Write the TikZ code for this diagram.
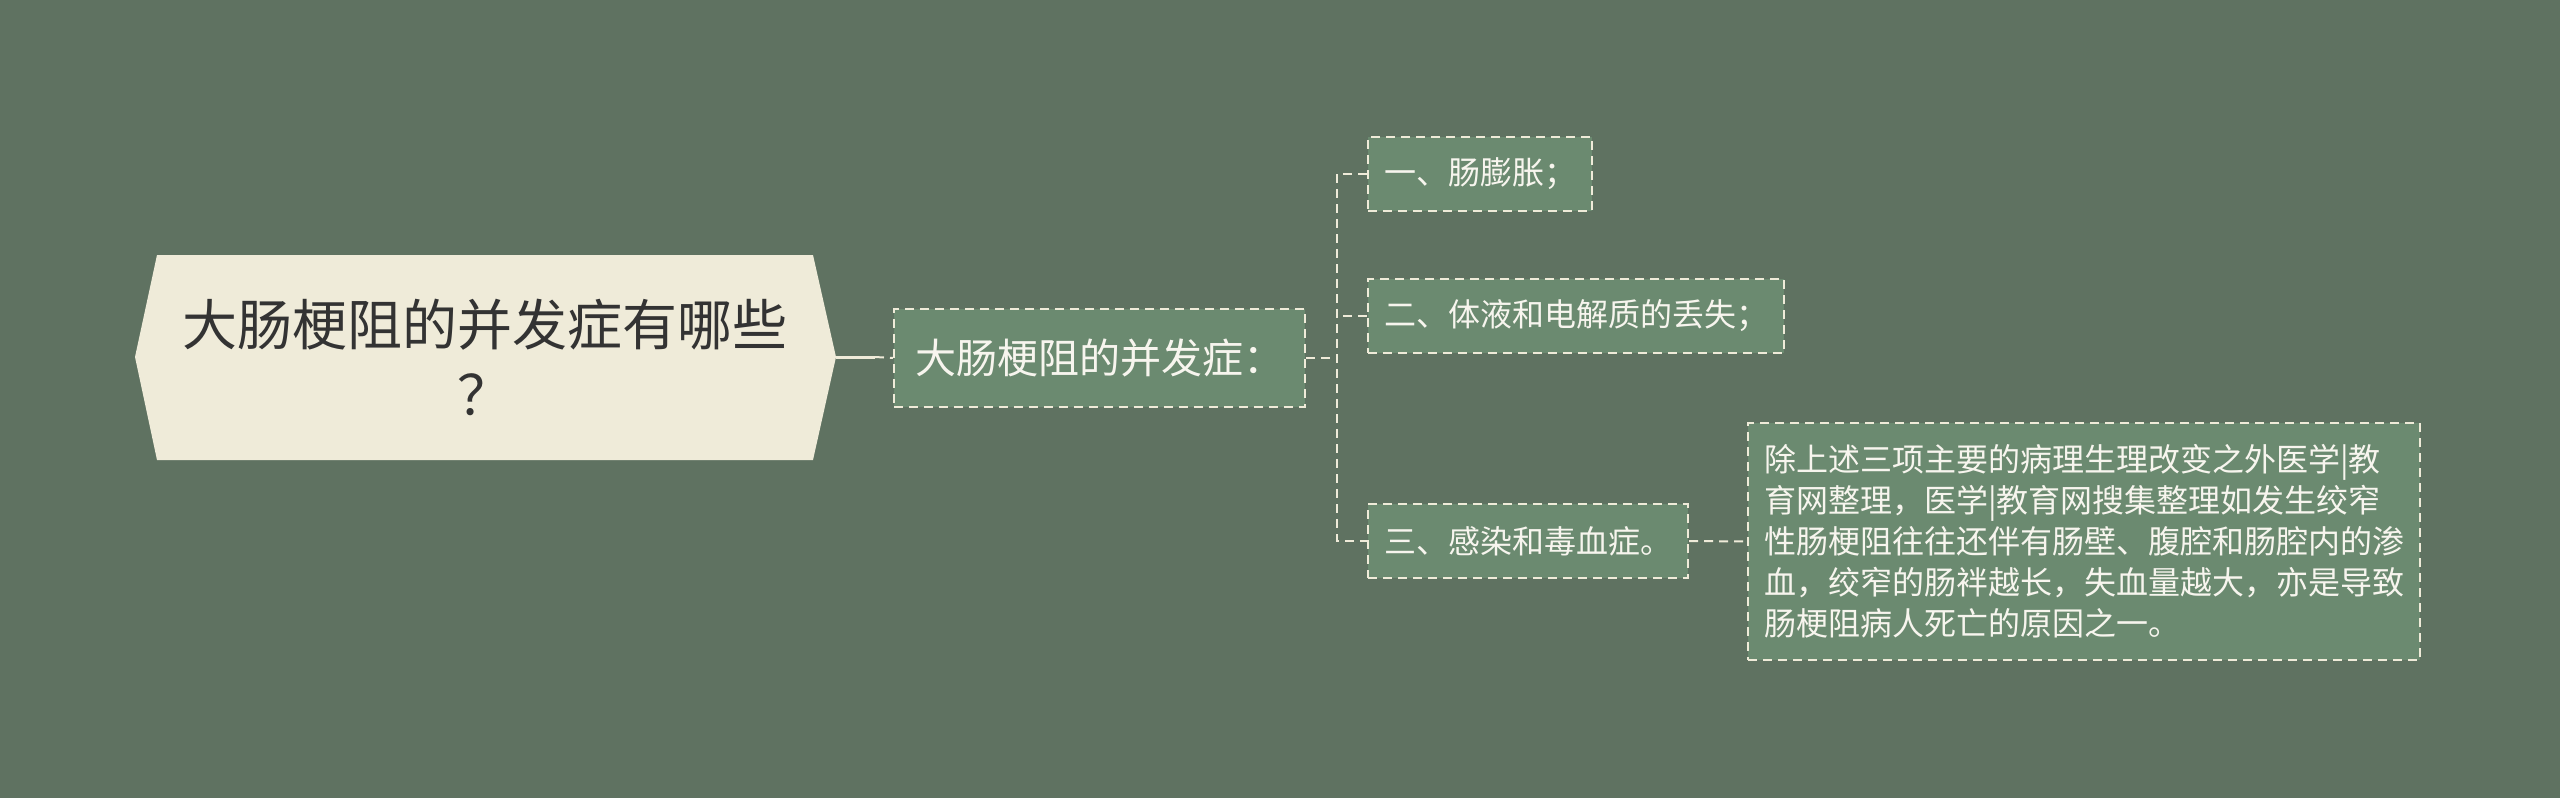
\documentclass[tikz,border=0pt]{standalone}
\usepackage{fontspec}
\setmainfont{Noto Sans CJK SC}
\usetikzlibrary{calc}
\definecolor{bgc}{HTML}{5F7261}
\definecolor{nodefill}{HTML}{6B8A70}
\definecolor{rootfill}{HTML}{EFEBD9}
\definecolor{linec}{HTML}{EFEBD9}
\definecolor{roottext}{HTML}{333333}
\definecolor{lighttext}{HTML}{F7F5EE}
\tikzset{
  conn/.style={draw=linec, line width=2pt, dash pattern=on 9pt off 6pt},
  subbox/.style={draw=linec, fill=nodefill, line width=2pt, dash pattern=on 9pt off 6pt,
    text=lighttext, inner xsep=21pt, inner ysep=0pt, minimum height=98pt, anchor=west,
    font=\fontsize{41pt}{50pt}\selectfont},
  leafbox/.style={draw=linec, fill=nodefill, line width=2pt, dash pattern=on 9pt off 6pt,
    text=lighttext, inner xsep=16pt, inner ysep=0pt, minimum height=74pt, anchor=west,
    font=\fontsize{32pt}{41pt}\selectfont},
}
\begin{document}
\begin{tikzpicture}[x=1pt,y=-1pt]
\fill[bgc] (0,0) rectangle (2560,798);
\useasboundingbox (0,0) rectangle (2560,798);
% root
\fill[rootfill] (135,357) -- (157,255) -- (813,255) -- (836,357) -- (813,460) -- (157,460) -- cycle;
\node[text=roottext, align=center, font=\fontsize{55pt}{70pt}\selectfont, minimum width=656pt, minimum height=205pt, inner sep=0pt] (root) at (485,357) {大肠梗阻的并发症有哪些\\？};
\coordinate (rootR) at (836,357);
\coordinate (rootJ) at (875,357);
% sub
\node[subbox] (sub) at (893,358) {大肠梗阻的并发症：};
\coordinate (bx) at (1337,358);
% leaves
\node[leafbox] (c1) at (1367,174) {一、肠膨胀；};
\node[leafbox] (c2) at (1367,316) {二、体液和电解质的丢失；};
\node[leafbox] (c3) at (1367,541) {三、感染和毒血症。};
\node[leafbox, minimum height=237pt, text width=640pt, align=left] (det) at (1747,541.5)
{除上述三项主要的病理生理改变之外医学|教\\育网整理，医学|教育网搜集整理如发生绞窄\\性肠梗阻往往还伴有肠壁、腹腔和肠腔内的渗\\血，绞窄的肠袢越长，失血量越大，亦是导致\\肠梗阻病人死亡的原因之一。};
% connectors
\draw[draw=linec, line width=3pt] (rootR) -- (rootJ);
\draw[conn] (rootJ) -- (sub.west);
\draw[conn] (sub.east) -- (bx);
\draw[conn] (c1.west) -- (c1.west -| bx) -- (c3.west -| bx) -- (c3.west);
\draw[conn] (c2.west) -- (c2.west -| bx);
\draw[conn] (c3.east) -- (det.west);
\end{tikzpicture}
\end{document}
